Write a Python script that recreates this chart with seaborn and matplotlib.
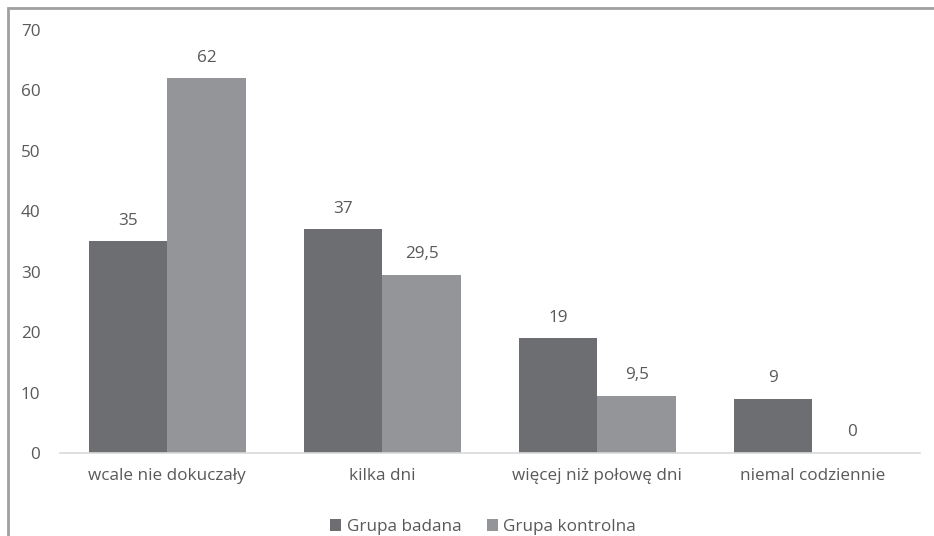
import matplotlib
matplotlib.use("Agg")
import matplotlib.pyplot as plt
import seaborn as sns
import pandas as pd
from matplotlib.patches import Rectangle

categories = ["wcale nie dokuczały", "kilka dni", "więcej niż połowę dni", "niemal codziennie"]
grupa_badana = [35, 37, 19, 9]
grupa_kontrolna = [62, 29.5, 9.5, 0]
series_names = ["Grupa badana", "Grupa kontrolna"]
colors = ["#6d6e71", "#939598"]

df = pd.DataFrame({
    "kategoria": categories * 2,
    "wartosc": grupa_badana + grupa_kontrolna,
    "grupa": [series_names[0]] * len(categories) + [series_names[1]] * len(categories),
})

sns.set_theme(style="white")
plt.rcParams["font.family"] = ["Open Sans", "DejaVu Sans"]
text_color = "#595959"
fs = 12.3

fig = plt.figure(figsize=(9.34, 5.36), dpi=100)
ax = fig.add_axes([0.064, 0.155, 0.921, 0.789])

sns.barplot(data=df, x="kategoria", y="wartosc", hue="grupa", order=categories,
            hue_order=series_names, palette=colors, width=0.73, saturation=1,
            linewidth=0, ax=ax, legend=True)

ax.set_ylim(0, 70)
ax.set_yticks(range(0, 71, 10))
ax.set_xlabel("")
ax.set_ylabel("")
for s in ["top", "right", "left"]:
    ax.spines[s].set_visible(False)
ax.spines["bottom"].set_color("#d9d9d9")
ax.spines["bottom"].set_linewidth(1.2)
ax.tick_params(axis="both", length=0, colors=text_color, labelsize=fs)
ax.tick_params(axis="x", pad=11)
ax.tick_params(axis="y", pad=14)

def fmt(v):
    s = f"{v:g}"
    return s.replace(".", ",")

for container in ax.containers:
    labels = [fmt(b.get_height()) for b in container]
    ax.bar_label(container, labels=labels, padding=9, color=text_color, fontsize=fs)

leg = ax.legend(loc="center", bbox_to_anchor=(0.492, -0.175), ncol=2, frameon=False,
                handlelength=0.65, handleheight=0.65, handletextpad=0.3, columnspacing=1.5,
                fontsize=fs)
for t in leg.get_texts():
    t.set_color(text_color)

# outer frame (left and top edges visible)
fig.patches.append(Rectangle((8 / 934, -0.05), 1.2, 1 - 8 / 536 + 0.05,
                             transform=fig.transFigure, fill=False,
                             edgecolor="#a0a0a0", linewidth=2))

fig.savefig("out.png", dpi=100)
